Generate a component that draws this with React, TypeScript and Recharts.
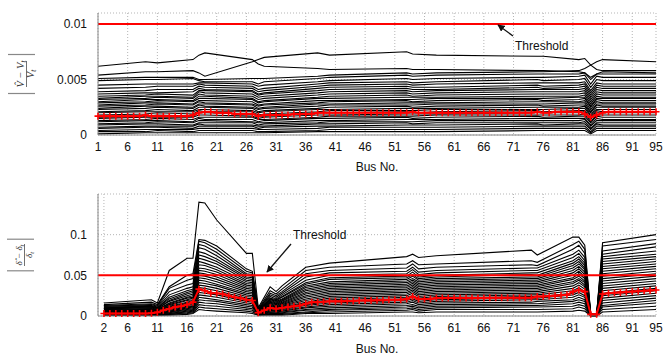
import { LineChart, Line, XAxis, YAxis, CartesianGrid } from 'recharts'

const FONT = '"Liberation Sans", Arial, sans-serif'

// tick labels
const topTicks = [1, 6, 11, 16, 21, 26, 31, 36, 41, 46, 51, 56, 61, 66, 71, 76, 81, 86, 91, 95]
const bottomTicks = [2, 6, 11, 16, 21, 26, 31, 36, 41, 46, 51, 56, 61, 66, 71, 76, 81, 86, 91, 95]
const topYTicks = [0, 0.005, 0.01]
const bottomYTicks = [0, 0.05, 0.1]

// voltage magnitude error, one row per case, read at these buses (units of 1e-4)
const topBuses = [1, 9, 11, 17, 18, 19, 27, 28, 29, 38, 40, 53, 54, 58, 75, 76, 82, 83, 84, 85, 86, 95]
const topLines = [
  [62, 66, 65, 68, 72, 74, 68, 64, 62, 60, 59, 60, 59, 59, 58, 58, 57, 56, 52, 55, 57, 56],
  [54, 57, 57, 58, 56, 53, 66, 68, 70, 74, 72, 75, 73, 72, 71, 71, 68, 69, 63, 66, 68, 66],
  [51, 52, 52, 52, 50, 50, 51, 51, 51, 53, 54, 56, 55, 56, 57, 57, 58, 60, 63, 59, 58, 58],
  [49, 50, 50, 51, 49, 48, 48, 46, 48, 51, 52, 54, 53, 54, 55, 55, 55, 56, 50, 55, 55, 55],
  [45, 46, 46, 46, 47, 47, 46, 44, 45, 48, 49, 51, 50, 51, 52, 52, 53, 54, 46, 53, 52, 52],
  [42, 43, 44, 44, 46, 45, 44, 41, 42, 46, 47, 48, 47, 48, 50, 49, 50, 51, 43, 50, 49, 49],
  [39, 40, 41, 41, 44, 43, 42, 39, 40, 44, 45, 46, 45, 46, 47, 47, 47, 48, 40, 47, 46, 46],
  [37, 38, 38, 39, 42, 41, 40, 37, 38, 42, 43, 44, 43, 43, 45, 44, 45, 46, 38, 45, 44, 44],
  [35, 36, 37, 36, 40, 40, 39, 36, 37, 40, 41, 42, 41, 41, 43, 42, 43, 44, 36, 43, 42, 42],
  [33, 35, 35, 34, 39, 38, 37, 34, 35, 38, 39, 40, 39, 40, 41, 41, 41, 42, 34, 41, 40, 40],
  [32, 33, 34, 33, 37, 36, 35, 32, 33, 36, 37, 38, 37, 38, 39, 39, 39, 40, 32, 39, 38, 38],
  [30, 32, 32, 31, 35, 35, 33, 30, 31, 34, 35, 36, 35, 36, 37, 37, 37, 38, 30, 37, 36, 36],
  [29, 30, 31, 30, 33, 33, 32, 29, 30, 33, 33, 34, 34, 34, 35, 35, 35, 36, 28, 35, 34, 34],
  [27, 29, 29, 28, 31, 31, 30, 27, 28, 31, 31, 32, 32, 33, 33, 33, 34, 34, 26, 33, 33, 33],
  [26, 27, 28, 27, 30, 29, 28, 26, 27, 29, 30, 31, 30, 31, 32, 31, 32, 33, 25, 32, 31, 31],
  [24, 26, 26, 25, 28, 28, 27, 24, 25, 28, 28, 29, 29, 29, 30, 30, 30, 31, 23, 30, 29, 29],
  [23, 24, 25, 24, 27, 26, 25, 23, 24, 26, 27, 27, 27, 28, 28, 28, 29, 29, 21, 28, 28, 28],
  [21, 22, 23, 22, 25, 25, 24, 21, 22, 24, 25, 26, 25, 26, 27, 26, 27, 27, 20, 27, 26, 26],
  [20, 21, 21, 21, 23, 23, 22, 20, 21, 23, 23, 24, 24, 24, 25, 25, 25, 26, 18, 25, 25, 25],
  [18, 19, 20, 19, 22, 21, 21, 18, 19, 21, 22, 22, 22, 23, 23, 23, 24, 24, 17, 23, 23, 23],
  [16, 17, 18, 17, 20, 20, 19, 17, 17, 20, 20, 21, 20, 21, 22, 21, 22, 22, 15, 22, 21, 21],
  [15, 16, 16, 16, 18, 18, 17, 15, 16, 18, 18, 19, 19, 19, 20, 20, 20, 21, 14, 20, 20, 20],
  [13, 14, 15, 14, 16, 16, 16, 14, 14, 16, 17, 17, 17, 18, 18, 18, 18, 19, 12, 18, 18, 18],
  [12, 13, 13, 12, 15, 14, 14, 12, 13, 15, 15, 16, 15, 16, 17, 16, 17, 17, 11, 17, 16, 16],
  [10, 11, 12, 11, 13, 13, 12, 11, 11, 13, 13, 14, 14, 14, 15, 15, 15, 15, 9, 15, 14, 14],
  [9, 10, 10, 9, 11, 11, 11, 9, 10, 11, 12, 12, 12, 13, 13, 13, 13, 14, 8, 13, 13, 13],
  [7, 8, 8, 8, 10, 9, 9, 8, 8, 10, 10, 11, 10, 11, 11, 11, 11, 12, 6, 11, 11, 11],
  [6, 7, 7, 6, 8, 8, 8, 6, 7, 8, 8, 9, 9, 9, 10, 9, 10, 10, 5, 10, 9, 9],
  [4, 5, 5, 5, 6, 6, 6, 5, 5, 6, 7, 7, 7, 7, 8, 8, 8, 8, 3, 8, 8, 8],
  [3, 3, 4, 3, 4, 4, 4, 3, 3, 4, 5, 5, 5, 5, 6, 6, 6, 6, 2, 6, 6, 6],
  [1, 2, 2, 2, 2, 2, 2, 2, 2, 3, 3, 3, 3, 3, 4, 4, 4, 4, 1, 4, 4, 4],
]
// mean error for bus 1..95 (units of 1e-4)
const topMean = [
  17, 17, 17, 17, 17, 17, 17, 17, 18, 17,
  17, 17, 17, 17, 17, 17, 18, 20, 21, 21,
  20, 20, 20, 19, 19, 19, 19, 17, 18, 18,
  18, 18, 18, 19, 19, 19, 19, 20, 20, 20,
  20, 20, 20, 20, 20, 20, 20, 20, 20, 20,
  20, 20, 20, 21, 20, 20, 20, 20, 20, 20,
  20, 20, 20, 20, 20, 20, 20, 20, 20, 20,
  20, 20, 20, 20, 21, 20, 20, 21, 21, 21,
  21, 21, 19, 16, 18, 20, 21, 21, 21, 21,
  21, 21, 21, 21, 21,
]

// voltage angle error, one row per case, read at these buses (units of 1e-3)
const bottomBuses = [2, 10, 11, 13, 16, 17, 18, 19, 21, 26, 27, 28, 30, 31, 32, 36, 40, 53, 54, 55, 58, 74, 75, 81, 82, 83, 84, 85, 86, 95]
const bottomLines = [
  [16, 20, 16, 56, 71, 71, 140, 139, 118, 77, 77, 10, 36, 30, 37, 60, 65, 73, 76, 72, 74, 81, 75, 97, 97, 87, 3, 2, 90, 100],
  [14, 17, 14, 36, 50, 52, 94, 93, 86, 58, 55, 9, 31, 27, 33, 56, 60, 64, 68, 63, 64, 68, 66, 88, 92, 82, 3, 2, 86, 94],
  [13, 15, 13, 34, 44, 46, 92, 90, 82, 55, 53, 8, 28, 25, 30, 52, 56, 59, 64, 58, 60, 63, 62, 82, 87, 77, 2, 2, 80, 89],
  [12, 14, 12, 30, 38, 40, 88, 86, 78, 52, 51, 8, 26, 23, 28, 48, 53, 55, 60, 54, 56, 59, 59, 76, 81, 72, 2, 2, 76, 85],
  [12, 13, 11, 26, 34, 36, 84, 82, 74, 50, 49, 7, 24, 21, 26, 44, 50, 52, 57, 51, 53, 56, 56, 72, 77, 68, 2, 1, 73, 80],
  [11, 12, 10, 23, 31, 33, 79, 77, 70, 48, 47, 7, 22, 20, 24, 41, 47, 49, 54, 48, 50, 53, 53, 68, 73, 65, 2, 1, 70, 76],
  [10, 12, 10, 21, 29, 31, 75, 73, 67, 46, 45, 6, 21, 19, 23, 39, 45, 47, 51, 46, 48, 51, 50, 65, 70, 62, 2, 1, 67, 73],
  [10, 11, 9, 19, 27, 29, 71, 69, 64, 44, 43, 6, 20, 18, 21, 37, 42, 45, 49, 44, 46, 48, 48, 62, 67, 59, 1, 1, 64, 70],
  [9, 11, 9, 18, 25, 27, 67, 65, 60, 42, 41, 6, 19, 17, 20, 35, 40, 43, 46, 42, 44, 46, 46, 59, 64, 57, 1, 1, 61, 67],
  [9, 10, 8, 16, 23, 25, 63, 62, 57, 40, 39, 5, 18, 16, 19, 33, 38, 41, 44, 40, 42, 44, 44, 56, 61, 54, 1, 1, 58, 64],
  [8, 9, 8, 15, 22, 23, 59, 58, 54, 38, 37, 5, 17, 15, 18, 31, 36, 39, 42, 38, 40, 42, 42, 53, 58, 51, 1, 1, 55, 61],
  [8, 9, 7, 14, 20, 22, 56, 55, 51, 36, 35, 5, 16, 14, 17, 29, 34, 37, 40, 36, 38, 40, 40, 50, 55, 48, 1, 1, 52, 58],
  [7, 8, 7, 13, 19, 20, 53, 52, 48, 34, 33, 4, 15, 13, 16, 27, 32, 35, 38, 34, 36, 38, 38, 47, 52, 46, 1, 1, 49, 55],
  [7, 8, 6, 12, 17, 19, 50, 49, 45, 32, 31, 4, 14, 12, 15, 25, 30, 33, 36, 32, 34, 36, 36, 45, 49, 43, 1, 1, 46, 52],
  [6, 7, 6, 11, 16, 17, 47, 46, 42, 30, 29, 4, 13, 11, 14, 23, 28, 31, 34, 30, 32, 34, 34, 42, 46, 41, 1, 1, 43, 49],
  [6, 7, 5, 10, 15, 16, 44, 43, 39, 28, 27, 4, 12, 10, 13, 21, 26, 29, 32, 28, 30, 32, 32, 40, 44, 38, 1, 1, 40, 46],
  [5, 6, 5, 9, 13, 15, 41, 40, 37, 26, 25, 3, 11, 10, 12, 19, 24, 27, 30, 26, 28, 30, 30, 37, 41, 36, 1, 1, 37, 43],
  [5, 6, 4, 8, 12, 13, 38, 37, 34, 24, 23, 3, 10, 9, 11, 17, 22, 25, 28, 24, 26, 28, 28, 34, 38, 33, 1, 1, 34, 40],
  [4, 5, 4, 7, 11, 12, 35, 34, 31, 22, 21, 3, 9, 8, 10, 16, 20, 23, 25, 22, 24, 26, 26, 31, 35, 30, 1, 1, 31, 37],
  [4, 5, 3, 6, 10, 11, 32, 31, 28, 20, 19, 3, 8, 7, 9, 14, 18, 21, 23, 20, 22, 24, 24, 28, 32, 28, 1, 1, 28, 34],
  [3, 4, 3, 5, 9, 10, 29, 28, 26, 18, 17, 2, 7, 6, 8, 13, 16, 19, 21, 18, 20, 22, 22, 26, 29, 25, 1, 0, 25, 31],
  [3, 4, 3, 5, 8, 9, 26, 25, 23, 16, 15, 2, 6, 6, 7, 11, 14, 17, 19, 16, 18, 20, 20, 23, 26, 23, 1, 0, 22, 28],
  [2, 3, 2, 4, 7, 8, 23, 22, 20, 14, 13, 2, 5, 5, 6, 10, 12, 15, 17, 14, 16, 17, 18, 20, 23, 20, 0, 0, 19, 25],
  [2, 3, 2, 3, 6, 7, 20, 19, 18, 12, 11, 2, 4, 4, 5, 8, 10, 13, 14, 12, 14, 15, 15, 18, 20, 18, 0, 0, 16, 22],
  [2, 2, 2, 3, 5, 6, 17, 16, 15, 10, 9, 1, 4, 3, 4, 7, 8, 11, 12, 10, 12, 13, 13, 15, 17, 15, 0, 0, 13, 19],
  [1, 2, 1, 2, 4, 5, 14, 13, 12, 8, 7, 1, 3, 3, 3, 5, 7, 9, 10, 8, 10, 11, 11, 12, 14, 12, 0, 0, 11, 16],
  [1, 1, 1, 2, 3, 4, 11, 10, 9, 6, 5, 1, 2, 2, 2, 4, 5, 7, 8, 6, 8, 8, 8, 9, 11, 9, 0, 0, 8, 12],
  [1, 1, 1, 1, 2, 3, 8, 7, 6, 4, 3, 1, 1, 1, 1, 3, 3, 5, 5, 4, 5, 5, 5, 6, 7, 6, 0, 0, 5, 8],
]
// mean error for bus 2..95 (units of 1e-3)
const bottomMean = [
  3, 3, 3, 3, 3, 3, 3, 3, 3.5, 4.5,
  7, 9, 11, 12, 14, 17, 33, 31, 28, 28,
  27, 25, 23, 22, 20, 19, 4, 7, 10, 9,
  10, 11, 12, 13, 15, 17, 17, 17.5, 18, 18,
  18, 18.5, 18.5, 19, 19, 19, 19.5, 19.5, 20, 20,
  20, 21, 24, 21, 21, 21, 22, 22, 22, 22,
  22, 22, 22, 22, 22, 22.5, 22.5, 22.5, 22.5, 22.5,
  22.5, 22.5, 22.5, 24, 24, 24.5, 25, 25.5, 26, 30,
  32, 30, 2, 2, 27, 28, 28.5, 29, 29.5, 30,
  30.5, 31, 31.5, 32,
]

const topThreshold = 0.01
const bottomThreshold = 0.05

const toRows = (buses: number[], vals: number[], unit: number) =>
  buses.map((bus, i) => ({ bus, v: vals[i] * unit }))

function Plus(props: any) {
  const { cx, cy } = props
  if (cx == null || cy == null) return null
  return (
    <path
      d={`M${cx - 3.5},${cy}H${cx + 3.5}M${cx},${cy - 3.5}V${cy + 3.5}`}
      stroke="#ff0000"
      strokeWidth={1.6}
      fill="none"
    />
  )
}

interface PanelProps {
  lines: { bus: number; v: number }[][]
  mean: { bus: number; v: number }[]
  threshold: number
  yMax: number
  yTicks: number[]
  xTicks: number[]
  top: number
  labelOffset: number
}

function Panel({ lines, mean, threshold, yMax, yTicks, xTicks, top, labelOffset }: PanelProps) {
  const thr = [
    { bus: 1, v: threshold },
    { bus: 95, v: threshold },
  ]
  const tickStyle = { fill: '#111', fontSize: 12, fontFamily: FONT }
  return (
    <LineChart width={665} height={180} margin={{ top, right: 9, bottom: 0, left: 0 }}>
      <CartesianGrid strokeDasharray="1 2" stroke="#b5b5b5" />
      <XAxis
        type="number"
        dataKey="bus"
        domain={[1, 95]}
        ticks={xTicks}
        interval={0}
        height={180 - top - 122}
        tickLine={false}
        tickSize={0}
        tickMargin={7}
        axisLine={{ stroke: '#888' }}
        tick={tickStyle}
        label={{ value: 'Bus No.', position: 'insideBottom', offset: labelOffset, fill: '#111', fontSize: 12, fontFamily: FONT }}
      />
      <XAxis
        xAxisId="top"
        orientation="top"
        type="number"
        domain={[1, 95]}
        ticks={xTicks}
        interval={0}
        mirror
        height={0}
        tick={false}
        tickSize={4}
        tickLine={{ stroke: '#888' }}
        axisLine={{ stroke: '#888' }}
      />
      <YAxis
        type="number"
        domain={[0, yMax]}
        ticks={yTicks}
        width={98}
        tickLine={false}
        tickSize={0}
        tickMargin={11}
        axisLine={{ stroke: '#888' }}
        tick={tickStyle}
      />
      <YAxis
        yAxisId="right"
        orientation="right"
        type="number"
        domain={[0, yMax]}
        ticks={yTicks}
        mirror
        width={0}
        tick={false}
        tickSize={4}
        tickLine={{ stroke: '#888' }}
        axisLine={{ stroke: '#888' }}
      />
      {lines.map((d, i) => (
        <Line
          key={i}
          data={d}
          dataKey="v"
          stroke="#000"
          strokeWidth={1.1}
          dot={false}
          activeDot={false}
          isAnimationActive={false}
        />
      ))}
      <Line data={thr} dataKey="v" stroke="#ff0000" strokeWidth={2} dot={false} activeDot={false} isAnimationActive={false} />
      <Line data={mean} dataKey="v" stroke="#ff0000" strokeWidth={2} dot={Plus} activeDot={false} isAnimationActive={false} />
    </LineChart>
  )
}

export default function App() {
  const tLines = topLines.map((vals) => toRows(topBuses, vals, 1e-4))
  const tMean = toRows(topMean.map((_, i) => i + 1), topMean, 1e-4)
  const bLines = bottomLines.map((vals) => toRows(bottomBuses, vals, 1e-3))
  const bMean = toRows(bottomMean.map((_, i) => i + 2), bottomMean, 1e-3)
  const serif = '"Liberation Serif", "DejaVu Serif", serif'

  return (
    <div style={{ position: 'absolute', left: 0, top: 0, width: 665, height: 360, background: '#fff' }}>
      <Panel lines={tLines} mean={tMean} threshold={topThreshold} yMax={0.011} yTicks={topYTicks} xTicks={topTicks} top={13} labelOffset={9} />
      <Panel lines={bLines} mean={bMean} threshold={bottomThreshold} yMax={0.15} yTicks={bottomYTicks} xTicks={bottomTicks} top={14} labelOffset={7} />
      <svg width={665} height={360} style={{ position: 'absolute', left: 0, top: 0, pointerEvents: 'none' }}>
        <defs>
          <marker id="ah" viewBox="0 0 10 10" refX="9" refY="5" markerWidth="5.5" markerHeight="5.5" orient="auto">
            <path d="M0,0 L10,5 L0,10 z" fill="#111" />
          </marker>
        </defs>
        {/* y label, top panel */}
        <g transform="translate(26,74) rotate(-90)" fontFamily={serif} fontStyle="italic" fill="#333">
          <text x={0} y={-2} fontSize={10.5} textAnchor="middle">
            V&#770; − V<tspan fontSize={7.5} dy={2}>t</tspan>
          </text>
          <line x1={-13} y1={0.5} x2={13} y2={0.5} stroke="#333" strokeWidth={0.7} />
          <text x={0} y={8} fontSize={10.5} textAnchor="middle">
            V<tspan fontSize={7.5} dy={2}>t</tspan>
          </text>
          <line x1={-19.5} y1={-18} x2={-19.5} y2={9} stroke="#888" strokeWidth={1.2} />
          <line x1={19.5} y1={-18} x2={19.5} y2={9} stroke="#888" strokeWidth={1.2} />
        </g>
        {/* y label, bottom panel */}
        <g transform="translate(24,255) rotate(-90)" fontFamily={serif} fontStyle="italic" fill="#333">
          <text x={0} y={-2} fontSize={9} textAnchor="middle">
            δ&#770; − δ<tspan fontSize={6.5} dy={2}>t</tspan>
          </text>
          <line x1={-11} y1={0.5} x2={11} y2={0.5} stroke="#333" strokeWidth={0.7} />
          <text x={0} y={7.5} fontSize={9} textAnchor="middle">
            δ<tspan fontSize={6.5} dy={2}>t</tspan>
          </text>
          <line x1={-15.8} y1={-17} x2={-15.8} y2={10} stroke="#888" strokeWidth={1.2} />
          <line x1={15.8} y1={-17} x2={15.8} y2={10} stroke="#888" strokeWidth={1.2} />
        </g>
        {/* threshold annotations */}
        <line x1={513} y1={36} x2={498} y2={25} stroke="#111" strokeWidth={1.3} markerEnd="url(#ah)" />
        <text x={515} y={49.5} fontSize={12} fontFamily={FONT} fill="#111">Threshold</text>
        <line x1={291} y1={244} x2={267} y2={272} stroke="#111" strokeWidth={1.3} markerEnd="url(#ah)" />
        <text x={293} y={238.5} fontSize={12} fontFamily={FONT} fill="#111">Threshold</text>
      </svg>
    </div>
  )
}
